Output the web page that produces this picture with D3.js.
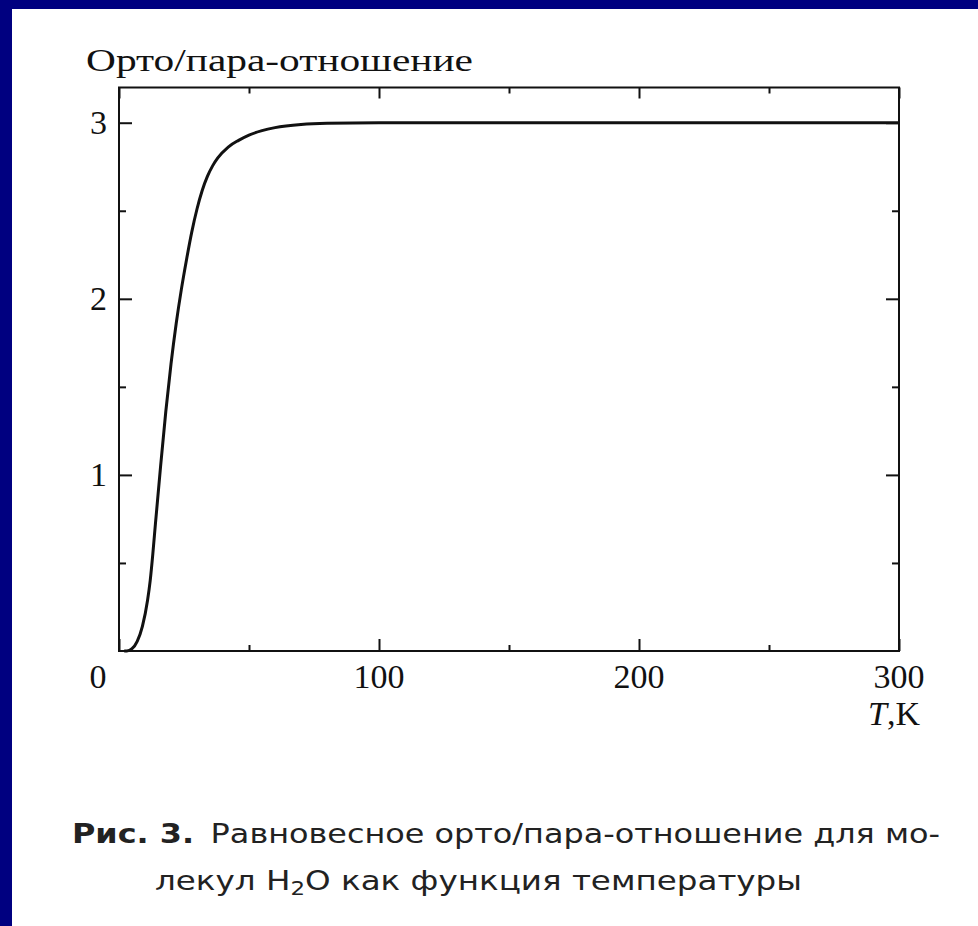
<!DOCTYPE html>
<html>
<head>
<meta charset="utf-8">
<script src="https://cdn.jsdelivr.net/npm/d3@7"></script>
<style>
  html, body { margin: 0; padding: 0; background: #fff; }
  svg { display: block; }
</style>
</head>
<body>
<svg id="fig" width="978" height="926"></svg>
<script>
// Equilibrium ortho/para ratio of H2O vs temperature
const temperatureK = [2, 3, 5, 7, 9, 11, 12, 13, 14, 16, 18, 20, 22, 24, 26, 28, 30, 32, 34, 36, 38, 42, 46, 50, 55, 60, 70, 80, 100, 150, 200, 250, 300];
const orthoParaRatio = [0, 0, 0.013, 0.055, 0.14, 0.29, 0.4, 0.55, 0.72, 1.05, 1.36, 1.63, 1.86, 2.055, 2.225, 2.38, 2.51, 2.615, 2.695, 2.755, 2.80, 2.862, 2.90, 2.93, 2.955, 2.972, 2.99, 2.997, 3.0, 3.0, 3.0, 3.0, 3.0];

const xMajorTicks = [0, 100, 200, 300];
const xMinorTicks = [50, 150, 250];
const yMajorTicks = [1, 2, 3];
const yMinorTicks = [0.5, 1.5, 2.5];

const yTitle = "Орто/пара-отношение";
const captionLine1 = ["Рис. 3.", "Равновесное орто/пара-отношение для мо-"];
const captionLine2 = ["лекул H", "2", "O как функция температуры"];

const svg = d3.select("#fig");
const W = 978, H = 926;

svg.append("rect").attr("width", W).attr("height", H).attr("fill", "#fff");
// navy frame strips
svg.append("rect").attr("x", 0).attr("y", 0).attr("width", W).attr("height", 9).attr("fill", "#000080");
svg.append("rect").attr("x", 0).attr("y", 0).attr("width", 12).attr("height", H).attr("fill", "#000080");

const plot = { left: 119, right: 899, top: 87.5, bottom: 651 };
const x = d3.scaleLinear().domain([0, 300]).range([plot.left, plot.right]);
const y = d3.scaleLinear().domain([0, 3.2]).range([plot.bottom, plot.top]);

const serif = "'Liberation Serif', 'DejaVu Serif', serif";

// inward ticks on all four sides
function tickAxis(axisFn, scale, values, size, transform) {
  const g = svg.append("g")
    .attr("transform", transform)
    .call(axisFn(scale).tickValues(values).tickSize(-size).tickFormat(""));
  g.select(".domain").remove();
  g.selectAll(".tick line").attr("stroke", "#111").attr("stroke-width", 2);
  return g;
}
tickAxis(d3.axisBottom, x, xMajorTicks, 12, `translate(0,${plot.bottom})`);
tickAxis(d3.axisBottom, x, xMinorTicks, 6, `translate(0,${plot.bottom})`);
tickAxis(d3.axisTop, x, xMajorTicks, 11, `translate(0,${plot.top})`);
tickAxis(d3.axisTop, x, xMinorTicks, 6, `translate(0,${plot.top})`);
tickAxis(d3.axisLeft, y, yMajorTicks, 13, `translate(${plot.left},0)`);
tickAxis(d3.axisLeft, y, yMinorTicks, 7, `translate(${plot.left},0)`);
tickAxis(d3.axisRight, y, yMajorTicks, 13, `translate(${plot.right},0)`);
tickAxis(d3.axisRight, y, yMinorTicks, 7, `translate(${plot.right},0)`);

// plot frame
svg.append("rect")
  .attr("x", plot.left).attr("y", plot.top)
  .attr("width", plot.right - plot.left).attr("height", plot.bottom - plot.top)
  .attr("fill", "none").attr("stroke", "#111").attr("stroke-width", 2);

// curve
const pts = temperatureK.map((t, i) => [t, orthoParaRatio[i]]);
const line = d3.line().x(d => x(d[0])).y(d => y(d[1])).curve(d3.curveMonotoneX);
svg.append("path")
  .datum(pts)
  .attr("d", line)
  .attr("fill", "none")
  .attr("stroke", "#111")
  .attr("stroke-width", 3)
  .attr("stroke-linejoin", "round");

// x tick labels
svg.append("g").selectAll("text")
  .data(xMajorTicks)
  .join("text")
  .attr("x", d => d === 0 ? x(d) - 21 : x(d))
  .attr("y", 688)
  .attr("text-anchor", "middle")
  .attr("font-family", serif)
  .attr("font-size", 34)
  .attr("fill", "#111")
  .text(d => d);

// y tick labels
svg.append("g").selectAll("text")
  .data(yMajorTicks)
  .join("text")
  .attr("x", 107)
  .attr("y", d => y(d))
  .attr("dy", "0.33em")
  .attr("text-anchor", "end")
  .attr("font-family", serif)
  .attr("font-size", 34)
  .attr("fill", "#111")
  .text(d => d);

// axis titles
svg.append("text")
  .attr("x", 86).attr("y", 71)
  .attr("font-family", serif)
  .attr("font-size", 31)
  .attr("fill", "#111")
  .attr("textLength", 387)
  .attr("lengthAdjust", "spacingAndGlyphs")
  .text(yTitle);

const xt = svg.append("text")
  .attr("x", 920).attr("y", 725)
  .attr("text-anchor", "end")
  .attr("font-family", serif)
  .attr("font-size", 34)
  .attr("fill", "#111");
xt.append("tspan").attr("font-style", "italic").text("T");
xt.append("tspan").text(",K");

// caption
const sans = "'DejaVu Sans', 'Noto Sans', sans-serif";
const c1 = svg.append("text")
  .attr("x", 72).attr("y", 843)
  .attr("font-family", sans)
  .attr("font-size", 27)
  .attr("fill", "#222")
  .attr("textLength", 868)
  .attr("lengthAdjust", "spacingAndGlyphs");
c1.append("tspan").attr("font-weight", "bold").text(captionLine1[0]);
c1.append("tspan").attr("dx", 14).text(captionLine1[1]);

const c2 = svg.append("text")
  .attr("x", 155).attr("y", 890)
  .attr("font-family", sans)
  .attr("font-size", 27)
  .attr("fill", "#222")
  .attr("textLength", 647)
  .attr("lengthAdjust", "spacingAndGlyphs");
c2.append("tspan").text(captionLine2[0]);
c2.append("tspan").attr("font-size", 19).attr("dy", 5).text(captionLine2[1]);
c2.append("tspan").attr("dy", -5).text(captionLine2[2]);
</script>
</body>
</html>
